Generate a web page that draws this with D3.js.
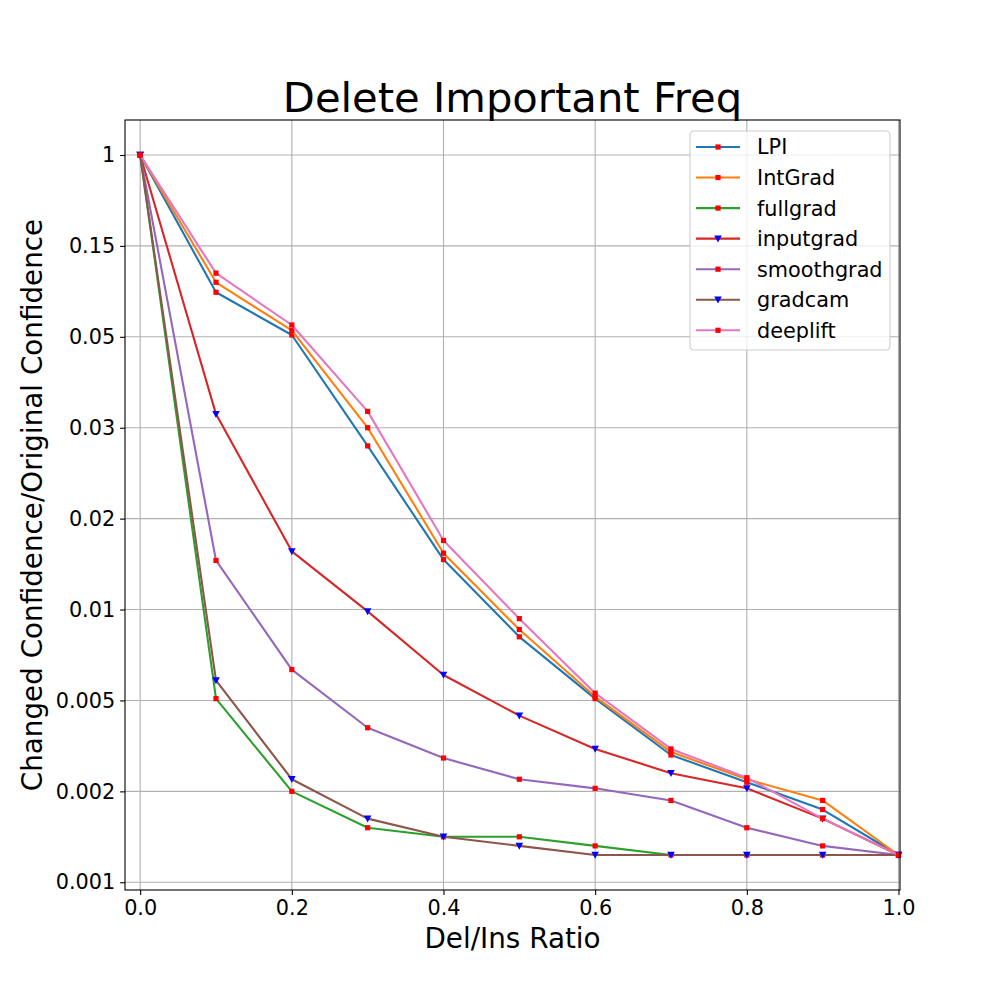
<!DOCTYPE html>
<html>
<head>
<meta charset="utf-8">
<script src="https://cdn.jsdelivr.net/npm/d3@7"></script>
<style>
    body { margin: 0; background: #fff; }
    text { font-family: "DejaVu Sans", sans-serif; }
</style>
</head>
<body>
<div class="chart"></div>
<script>
// data
let ratios = [0.0, 0.1, 0.2, 0.3, 0.4, 0.5, 0.6, 0.7, 0.8, 0.9, 1.0];
let xTicks = [0.0, 0.2, 0.4, 0.6, 0.8, 1.0];
let yTicks = [0.001, 0.002, 0.005, 0.01, 0.02, 0.03, 0.05, 0.15, 1];
let yTickLabels = ['0.001', '0.002', '0.005', '0.01', '0.02', '0.03', '0.05', '0.15', '1'];

let methods = ['LPI', 'IntGrad', 'fullgrad', 'inputgrad', 'smoothgrad', 'gradcam', 'deeplift'];
let markers = ['square', 'square', 'square', 'triangle', 'square', 'triangle', 'square'];
let colors = ['#1f77b4', '#ff7f0e', '#2ca02c', '#d62728', '#9467bd', '#8c564b', '#e377c2'];

let lpi = [1, 0.099, 0.052, 0.028, 0.0155, 0.0085, 0.0051, 0.0032, 0.0023, 0.0018, 0.0013];
let intGrad = [1, 0.11, 0.057, 0.030, 0.0162, 0.0089, 0.0052, 0.0033, 0.0024, 0.0019, 0.0013];
let fullgrad = [1, 0.0051, 0.002, 0.0016, 0.0015, 0.0015, 0.0014, 0.0013, 0.0013, 0.0013, 0.0013];
let inputgrad = [1, 0.033, 0.0164, 0.0099, 0.0064, 0.0045, 0.0034, 0.0026, 0.0021, 0.0017, 0.0013];
let smoothgrad = [1, 0.0154, 0.0067, 0.0041, 0.0031, 0.0024, 0.0021, 0.0019, 0.0016, 0.0014, 0.0013];
let gradcam = [1, 0.0061, 0.0024, 0.0017, 0.0015, 0.0014, 0.0013, 0.0013, 0.0013, 0.0013, 0.0013];
let deeplift = [1, 0.12, 0.063, 0.0336, 0.0176, 0.0095, 0.0054, 0.0034, 0.00245, 0.0017, 0.0013];

let series = [lpi, intGrad, fullgrad, inputgrad, smoothgrad, gradcam, deeplift];

// canvas / plot area
let margin = { top: 120, right: 100, bottom: 110, left: 125 },
    width = 1000 - margin.left - margin.right,
    height = 1000 - margin.top - margin.bottom;

let svg = d3.select('.chart')
    .append('svg')
    .attr('width', 1000)
    .attr('height', 1000);

let g = svg.append('g')
    .attr('transform', 'translate(' + margin.left + ',' + margin.top + ')');

// x is plain linear, y ticks are evenly spaced so use a piecewise scale over them
let x = d3.scaleLinear().domain([-0.02, 1.002]).range([0, width]);
let yIndex = d3.scaleLinear().domain([-0.085, 8.385]).range([height, 0]);
let y = d3.scaleLinear()
    .domain(yTicks)
    .range(yTicks.map((d, i) => yIndex(i)));

// grid
g.append('g')
    .selectAll('line')
    .data(xTicks)
    .enter().append('line')
    .attr('x1', d => x(d)).attr('x2', d => x(d))
    .attr('y1', 0).attr('y2', height)
    .style('stroke', '#b0b0b0')
    .style('stroke-width', 1.1);

g.append('g')
    .selectAll('line')
    .data(yTicks)
    .enter().append('line')
    .attr('x1', 0).attr('x2', width)
    .attr('y1', d => y(d)).attr('y2', d => y(d))
    .style('stroke', '#b0b0b0')
    .style('stroke-width', 1.1);

// axes
let xAxis = d3.axisBottom(x)
    .tickValues(xTicks)
    .tickFormat(d3.format('.1f'))
    .tickSize(4.9)
    .tickPadding(4.9);

let yAxis = d3.axisLeft(y)
    .tickValues(yTicks)
    .tickFormat((d, i) => yTickLabels[i])
    .tickSize(4.9)
    .tickPadding(4.9);

let gx = g.append('g')
    .attr('transform', 'translate(0,' + height + ')')
    .call(xAxis);
let gy = g.append('g')
    .call(yAxis);

[gx, gy].forEach(a => {
    a.select('.domain').remove();
    a.selectAll('.tick line').style('stroke', '#000').style('stroke-width', 1.1);
    a.selectAll('.tick text')
        .style('font-family', '"DejaVu Sans", sans-serif')
        .style('font-size', '20.8px')
        .style('fill', '#000');
});

// lines
let line = d3.line()
    .x((d, i) => x(ratios[i]))
    .y(d => y(d));

function drawMarker(sel, type, cx, cy) {
    if (type === 'square') {
        sel.append('rect')
            .attr('x', cx - 2.6).attr('y', cy - 2.6)
            .attr('width', 5.2).attr('height', 5.2)
            .style('fill', 'red');
    } else {
        sel.append('path')
            .attr('d', 'M' + (cx - 3.8) + ',' + (cy - 3.2) + 'L' + (cx + 3.8) + ',' + (cy - 3.2) + 'L' + cx + ',' + (cy + 3.8) + 'Z')
            .style('fill', 'blue');
    }
}

series.forEach((values, k) => {
    let sg = g.append('g');
    sg.append('path')
        .datum(values)
        .attr('d', line)
        .style('fill', 'none')
        .style('stroke', colors[k])
        .style('stroke-width', 2.1)
        .style('stroke-linejoin', 'round');
    values.forEach((v, i) => drawMarker(sg, markers[k], x(ratios[i]), y(v)));
});

// frame
g.append('rect')
    .attr('width', width)
    .attr('height', height)
    .style('fill', 'none')
    .style('stroke', '#000')
    .style('stroke-width', 1.1);

// legend
let legend = g.append('g')
    .attr('transform', 'translate(' + (690 - margin.left) + ',' + (131 - margin.top) + ')');

legend.append('rect')
    .attr('width', 200)
    .attr('height', 219)
    .attr('rx', 4)
    .style('fill', 'rgba(255,255,255,0.8)')
    .style('stroke', '#cccccc')
    .style('stroke-width', 1.1);

methods.forEach((name, k) => {
    let cy = 16 + k * 30.55;
    legend.append('line')
        .attr('x1', 6).attr('x2', 50)
        .attr('y1', cy).attr('y2', cy)
        .style('stroke', colors[k])
        .style('stroke-width', 2.1);
    drawMarker(legend, markers[k], 28, cy);
    legend.append('text')
        .attr('x', 67)
        .attr('y', cy)
        .attr('dy', '0.36em')
        .style('font-size', '20.8px')
        .text(name);
});

// title and axis names
svg.append('text')
    .attr('text-anchor', 'middle')
    .attr('x', margin.left + width / 2)
    .attr('y', 112)
    .style('font-size', '41.7px')
    .text('Delete Important Freq');

svg.append('text')
    .attr('text-anchor', 'middle')
    .attr('x', margin.left + width / 2)
    .attr('y', 948)
    .style('font-size', '27.8px')
    .text('Del/Ins Ratio');

svg.append('text')
    .attr('text-anchor', 'middle')
    .attr('transform', 'translate(42,' + (margin.top + height / 2) + ')rotate(-90)')
    .style('font-size', '27.8px')
    .text('Changed Confidence/Original Confidence');
</script>
</body>
</html>
